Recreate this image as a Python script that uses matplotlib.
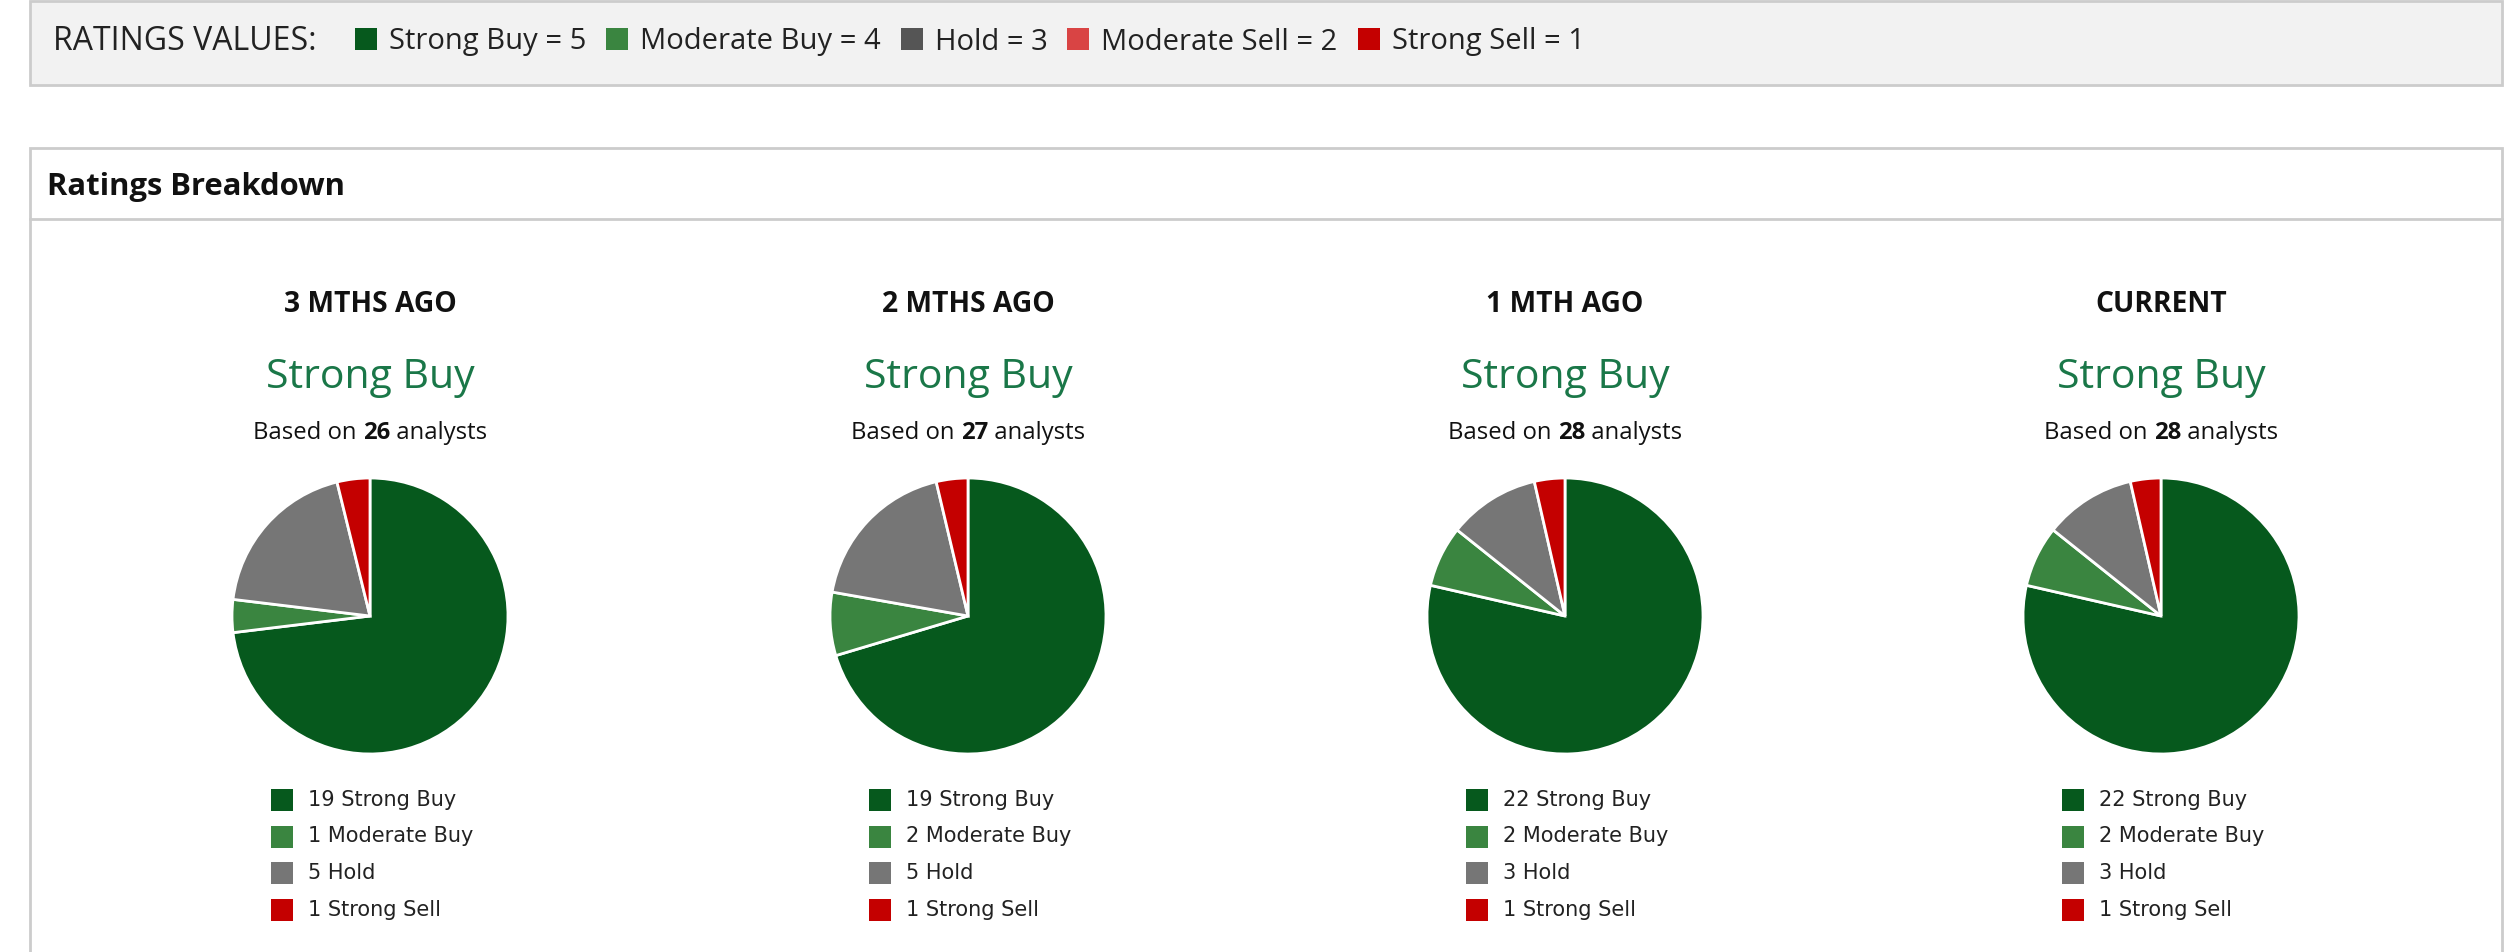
import matplotlib
matplotlib.use("Agg")
import matplotlib.pyplot as plt
from matplotlib.patches import Rectangle

# ratings data, one entry per period
periods = ["3 MTHS AGO", "2 MTHS AGO", "1 MTH AGO", "CURRENT"]
consensus = ["Strong Buy", "Strong Buy", "Strong Buy", "Strong Buy"]
strong_buy = [19, 19, 22, 22]
moderate_buy = [1, 2, 2, 2]
hold = [5, 5, 3, 3]
moderate_sell = [0, 0, 0, 0]
strong_sell = [1, 1, 1, 1]

rating_names = ["Strong Buy", "Moderate Buy", "Hold", "Moderate Sell", "Strong Sell"]
rating_values = [5, 4, 3, 2, 1]
pie_colors = ["#06591d", "#3a8540", "#767676", "#d94444", "#c40000"]
key_colors = ["#06591d", "#3a8540", "#555555", "#d94444", "#c40000"]

W, H = 2514, 952
fig = plt.figure(figsize=(W / 100, H / 100), dpi=100)
bg = fig.add_axes([0, 0, 1, 1])
bg.set_xlim(0, W)
bg.set_ylim(H, 0)
bg.axis("off")

FONT = "Open Sans"
border = "#cccccc"

# top key box
bg.add_patch(Rectangle((30, 1), 2472, 84, facecolor="#f2f2f2", edgecolor=border, lw=2))
# breakdown box
bg.add_patch(Rectangle((30, 148), 2472, 830, facecolor="white", edgecolor=border, lw=2))
bg.plot([30, 2502], [219, 219], color=border, lw=2)

fig.canvas.draw()
rend = fig.canvas.get_renderer()


def text_width(t):
    bb = t.get_window_extent(renderer=rend)
    return bb.width


t = bg.text(53, 42, "RATINGS VALUES:", family=FONT, fontsize=23, color="#222222",
            va="center", ha="left")
x = 53 + text_width(t) + 38
for name, val, col in zip(rating_names, rating_values, key_colors):
    bg.add_patch(Rectangle((x, 28), 22, 22, facecolor=col, edgecolor="none"))
    t = bg.text(x + 34, 42, f"{name} = {val}", family=FONT, fontsize=21,
                color="#222222", va="center", ha="left")
    x = x + 34 + text_width(t) + 20

bg.text(47, 187, "Ratings Breakdown", family=FONT, fontsize=22.3, fontweight="bold",
        color="#111111", va="center", ha="left")

centers = [370, 968, 1565, 2161]
pie_cy = 616
pie_r = 138
half = 150

for i, cx in enumerate(centers):
    counts = [strong_buy[i], moderate_buy[i], hold[i], moderate_sell[i], strong_sell[i]]
    total = sum(counts)

    bg.text(cx, 305, periods[i], family=FONT, fontsize=20.3, fontweight="bold",
            color="#111111", ha="center", va="center")
    bg.text(cx, 378, consensus[i], family=FONT, fontsize=29.5, color="#1a7748",
            ha="center", va="center")

    # "Based on N analysts" with bold count, centred as one line
    parts = [("Based on ", "normal"), (str(total), "bold"), (" analysts", "normal")]
    objs = [bg.text(0, 433, s, family=FONT, fontsize=17.2, fontweight=w, color="#111111",
                    ha="left", va="center") for s, w in parts]
    widths = [text_width(o) for o in objs]
    px = cx - sum(widths) / 2
    for o, w in zip(objs, widths):
        o.set_x(px)
        px += w

    # pie
    pax = fig.add_axes([(cx - half) / W, (H - pie_cy - half) / H, 2 * half / W, 2 * half / H])
    vals = [c for c in counts if c > 0]
    cols = [pie_colors[k] for k, c in enumerate(counts) if c > 0]
    pax.pie(vals, colors=cols, startangle=90, counterclock=False, radius=1,
            wedgeprops=dict(edgecolor="white", linewidth=2))
    lim = half / pie_r
    pax.set_xlim(-lim, lim)
    pax.set_ylim(-lim, lim)
    pax.axis("off")

    # legend below the pie
    row = 0
    for k, c in enumerate(counts):
        if c == 0:
            continue
        ly = 800 + row * 36.5
        bg.add_patch(Rectangle((cx - 99, ly - 11), 22, 22, facecolor=pie_colors[k],
                               edgecolor="none"))
        bg.text(cx - 62, ly, f"{c} {rating_names[k]}", family="DejaVu Sans", fontsize=15,
                color="#222222", ha="left", va="center")
        row += 1

fig.savefig("out.png", dpi=100)
